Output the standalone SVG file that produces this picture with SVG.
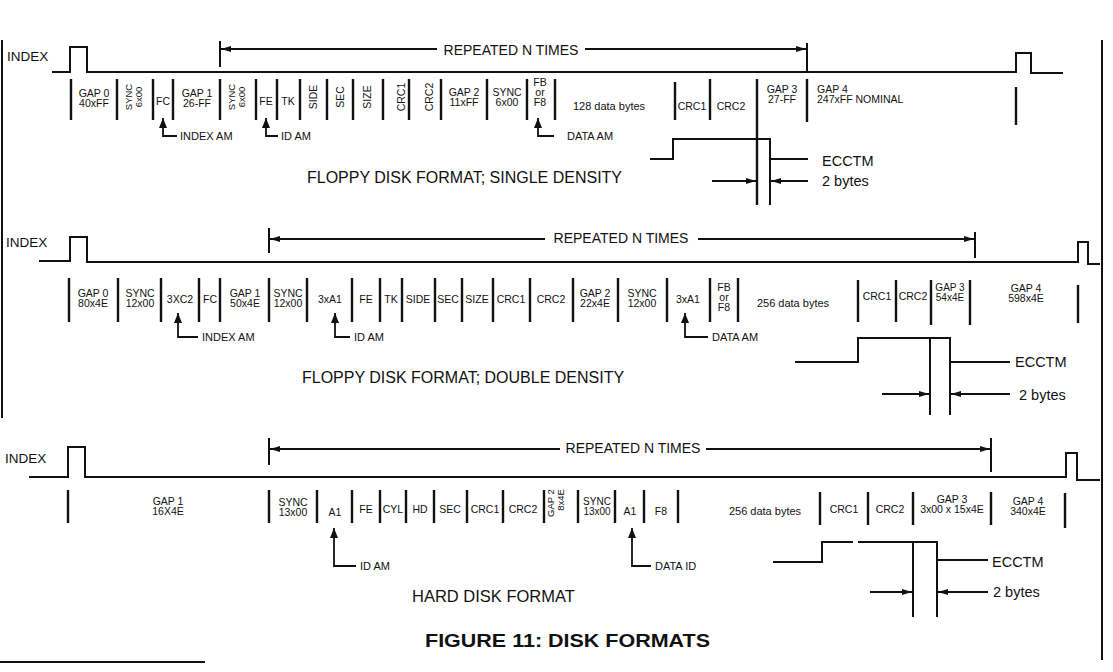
<svg xmlns="http://www.w3.org/2000/svg" width="1113" height="672" viewBox="0 0 1113 672">
<style>
.ln{stroke:#111;stroke-width:2;fill:none}
.bar{stroke:#111;stroke-width:2.4;fill:none}
.ar{stroke:#111;stroke-width:1.8;fill:none}
text{font-family:"Liberation Sans",Arial,Helvetica,sans-serif;fill:#111}
.f{font-size:10.5px;text-anchor:middle}
.fs{font-size:10.5px;text-anchor:start}
.r{font-size:9.5px;text-anchor:middle}
.r1{font-size:10.5px;text-anchor:middle}
.lb{font-size:13.5px}
.rp{font-size:14px;text-anchor:middle}
.am{font-size:11px}
.ec{font-size:14.5px}
.ti{font-size:16px}
.fig{font-size:18px;font-weight:bold}
</style>
<defs>
<marker id="ah" viewBox="0 0 10 6" refX="10" refY="3" markerWidth="10" markerHeight="6" markerUnits="userSpaceOnUse" orient="auto-start-reverse">
<path d="M0,0 L10,3 L0,6 z" fill="#111"/>
</marker>
<marker id="up" viewBox="0 0 8 10" refX="4" refY="0" markerWidth="8" markerHeight="10" markerUnits="userSpaceOnUse" orient="0">
<path d="M4,0 L8,10 L0,10 z" fill="#111"/>
</marker>
</defs>
<rect width="1113" height="672" fill="#fff"/>

<g id="frame">
<line class="ln" x1="2" y1="40" x2="2" y2="418"/>
<line class="ln" x1="1102" y1="40" x2="1102" y2="660"/>
<line class="ln" x1="0" y1="662" x2="205" y2="662"/>
</g>

<!-- SINGLE DENSITY -->
<g id="single-density">
<text class="lb" x="7" y="61">INDEX</text>
<path class="ln" d="M52,72 H70 V47 H87 V72 H1016 V53 H1031 V73 H1063"/>
<g id="sd-fields">
<path class="bar" d="M71,79V120M117,79V120M153,79V120M173,79V120M220,79V120M256,79V120M277,79V120M300,79V120M327,79V120M353,79V120M383,79V120M409,79V120M441,79V120M487,79V120M527,79V120M555,79V120M675,82V120M710,79V120M757,79V205M807,79V122M1016,87V125"/>
<text class="f" x="94" y="97">GAP 0<tspan x="94" dy="10">40xFF</tspan></text>
<text class="r" transform="translate(132,97) rotate(-90)">SYNC<tspan x="0" dy="10">6x00</tspan></text>
<text class="f" x="163" y="105">FC</text>
<text class="f" x="197" y="97">GAP 1<tspan x="197" dy="10">26-FF</tspan></text>
<text class="r" transform="translate(235,97) rotate(-90)">SYNC<tspan x="0" dy="10">6x00</tspan></text>
<text class="f" x="266" y="105">FE</text>
<text class="f" x="288" y="105">TK</text>
<text class="r1" transform="translate(317,97) rotate(-90)">SIDE</text>
<text class="r1" transform="translate(344,97) rotate(-90)">SEC</text>
<text class="r1" transform="translate(371,97) rotate(-90)">SIZE</text>
<text class="r1" transform="translate(405,97) rotate(-90)">CRC1</text>
<text class="r1" transform="translate(433,97) rotate(-90)">CRC2</text>
<text class="f" x="464" y="96">GAP 2<tspan x="464" dy="10">11xFF</tspan></text>
<text class="f" x="507" y="96">SYNC<tspan x="507" dy="10">6x00</tspan></text>
<text class="f" x="540" y="86">FB<tspan x="540" dy="10">or</tspan><tspan x="540" dy="10">F8</tspan></text>
<text class="f" x="609" y="110" style="font-size:11px">128 data bytes</text>
<text class="f" x="692" y="110">CRC1</text>
<text class="f" x="731" y="110">CRC2</text>
<text class="f" x="782" y="93">GAP 3<tspan x="782" dy="10">27-FF</tspan></text>
<text class="fs" x="817" y="93">GAP 4<tspan x="817" dy="10">247xFF NOMINAL</tspan></text>
</g>
<g id="sd-ecc">
<path class="ln" d="M650,159 H673 V139 H770 V205"/>
<line class="ln" x1="770" y1="159" x2="808" y2="159"/>
<text class="ec" x="822" y="166">ECCTM</text>
<text class="ec" x="822" y="186">2 bytes</text>
</g>
<text class="am" x="180" y="140">INDEX AM</text>
<text class="am" x="281" y="140">ID AM</text>
<text class="am" x="567" y="140">DATA AM</text>
<text class="rp" x="511" y="55">REPEATED N TIMES</text>
<text class="ti" x="307" y="183">FLOPPY DISK FORMAT; SINGLE DENSITY</text>
</g>

<!-- DOUBLE DENSITY -->
<g id="double-density">
<text class="lb" x="6" y="247">INDEX</text>
<path class="ln" d="M39,261 H70 V237 H87 V262 H1078 V242 H1088 V264 H1100"/>
<g id="dd-fields">
<path class="bar" d="M69,278V322M118,278V322M161,278V322M199,278V322M220,278V322M269,278V322M307,278V322M352,278V322M380,278V322M402,278V322M435,278V322M462,278V322M493,278V322M530,278V322M573,278V322M618,278V322M667,278V322M710,278V322M738,278V322M858,280V322M896,280V322M931,280V325M970,280V325M1078,285V323"/>
<text class="f" x="93" y="297">GAP 0<tspan x="93" dy="10">80x4E</tspan></text>
<text class="f" x="140" y="297">SYNC<tspan x="140" dy="10">12x00</tspan></text>
<text class="f" x="180" y="303">3XC2</text>
<text class="f" x="210" y="303">FC</text>
<text class="f" x="245" y="297">GAP 1<tspan x="245" dy="10">50x4E</tspan></text>
<text class="f" x="288" y="297">SYNC<tspan x="288" dy="10">12x00</tspan></text>
<text class="f" x="330" y="303">3xA1</text>
<text class="f" x="366" y="303">FE</text>
<text class="f" x="391" y="303">TK</text>
<text class="f" x="418" y="303">SIDE</text>
<text class="f" x="448" y="303">SEC</text>
<text class="f" x="477" y="303">SIZE</text>
<text class="f" x="511" y="303">CRC1</text>
<text class="f" x="551" y="303">CRC2</text>
<text class="f" x="595" y="297">GAP 2<tspan x="595" dy="10">22x4E</tspan></text>
<text class="f" x="642" y="297">SYNC<tspan x="642" dy="10">12x00</tspan></text>
<text class="f" x="688" y="303">3xA1</text>
<text class="f" x="724" y="291">FB<tspan x="724" dy="10">or</tspan><tspan x="724" dy="10">F8</tspan></text>
<text class="f" x="793" y="307" style="font-size:11px">256 data bytes</text>
<text class="f" x="877" y="300">CRC1</text>
<text class="f" x="913" y="300">CRC2</text>
<text class="f" x="950" y="291" style="font-size:10px">GAP 3<tspan x="950" dy="10">54x4E</tspan></text>
<text class="f" x="1026" y="292">GAP 4<tspan x="1026" dy="10">598x4E</tspan></text>
</g>
<g id="dd-ecc">
<path class="ln" d="M795,362 H858 V338 H950 V415"/>
<line class="ln" x1="930" y1="338" x2="930" y2="415"/>
<line class="ln" x1="950" y1="362" x2="1010" y2="362"/>
<text class="ec" x="1015" y="367">ECCTM</text>
<text class="ec" x="1019" y="400">2 bytes</text>
</g>
<text class="am" x="202" y="341">INDEX AM</text>
<text class="am" x="354" y="341">ID AM</text>
<text class="am" x="712" y="341">DATA AM</text>
<text class="rp" x="621" y="243">REPEATED N TIMES</text>
<text class="ti" x="302" y="383">FLOPPY DISK FORMAT; DOUBLE DENSITY</text>
</g>

<!-- HARD DISK -->
<g id="hard-disk">
<text class="lb" x="5" y="463">INDEX</text>
<path class="ln" d="M29,477 H68 V447 H85 V477 H1066 V453 H1077 V480 H1100"/>
<g id="hd-fields">
<path class="bar" d="M68,490V523M269,490V523M317,490V523M352,490V523M380,490V523M406,490V523M434,490V523M467,490V523M503,490V523M544,490V523M578,490V523M615,490V523M644,490V523M678,490V523M820,492V525M868,492V525M913,492V525M991,492V525M1065,493V528"/>
<text class="f" x="168" y="505">GAP 1<tspan x="168" dy="10">16X4E</tspan></text>
<text class="f" x="293" y="506">SYNC<tspan x="293" dy="10">13x00</tspan></text>
<text class="f" x="335" y="516">A1</text>
<text class="f" x="366" y="513">FE</text>
<text class="f" x="393" y="513">CYL</text>
<text class="f" x="420" y="513">HD</text>
<text class="f" x="450" y="513">SEC</text>
<text class="f" x="485" y="513">CRC1</text>
<text class="f" x="523" y="513">CRC2</text>
<text class="r" transform="translate(554,503) rotate(-90)">GAP 2<tspan x="3" dy="10">8x4E</tspan></text>
<text class="f" x="597" y="505" style="font-size:10px">SYNC<tspan x="597" dy="10">13x00</tspan></text>
<text class="f" x="630" y="515">A1</text>
<text class="f" x="661" y="515">F8</text>
<text class="f" x="765" y="515" style="font-size:11px">256 data bytes</text>
<text class="f" x="844" y="513">CRC1</text>
<text class="f" x="890" y="513">CRC2</text>
<text class="f" x="952" y="503">GAP 3<tspan x="952" dy="10">3x00 x 15x4E</tspan></text>
<text class="f" x="1028" y="505">GAP 4<tspan x="1028" dy="10">340x4E</tspan></text>
</g>
<g id="hd-ecc">
<path class="ln" d="M773,562 H822 V542 H853 M858,542 H937 V617"/>
<line class="ln" x1="913" y1="542" x2="913" y2="617"/>
<line class="ln" x1="937" y1="560" x2="988" y2="560"/>
<text class="ec" x="992" y="567">ECCTM</text>
<text class="ec" x="993" y="597">2 bytes</text>
</g>
<text class="am" x="360" y="570">ID AM</text>
<text class="am" x="655" y="570">DATA ID</text>
<text class="rp" x="633" y="453">REPEATED N TIMES</text>
<text class="ti" x="412" y="602" style="font-size:16.5px">HARD DISK FORMAT</text>
</g>

<g id="connectors">
<path class="ln" d="M220,41V67M807,43V71"/>
<line class="ar" x1="221" y1="49" x2="437" y2="49" marker-start="url(#ah)"/>
<line class="ar" x1="585" y1="49" x2="806" y2="49" marker-end="url(#ah)"/>
<path class="ln" d="M269,228V253M975,232V258"/>
<line class="ar" x1="270" y1="239" x2="545" y2="239" marker-start="url(#ah)"/>
<line class="ar" x1="698" y1="239" x2="974" y2="239" marker-end="url(#ah)"/>
<path class="ln" d="M269,438V465M991,438V472"/>
<line class="ar" x1="270" y1="449" x2="560" y2="449" marker-start="url(#ah)"/>
<line class="ar" x1="706" y1="449" x2="990" y2="449" marker-end="url(#ah)"/>
<path class="ar" d="M177,136 H163 V118" marker-end="url(#up)"/>
<path class="ar" d="M278,136 H266 V118" marker-end="url(#up)"/>
<path class="ar" d="M554,136 H538 V118" marker-end="url(#up)"/>
<path class="ar" d="M198,337 H178 V313" marker-end="url(#up)"/>
<path class="ar" d="M350,337 H335 V313" marker-end="url(#up)"/>
<path class="ar" d="M708,337 H685 V313" marker-end="url(#up)"/>
<path class="ar" d="M356,566 H334 V528" marker-end="url(#up)"/>
<path class="ar" d="M651,566 H632 V528" marker-end="url(#up)"/>
<line class="ar" x1="712" y1="181" x2="756" y2="181" marker-end="url(#ah)"/>
<line class="ar" x1="808" y1="181" x2="771" y2="181" marker-end="url(#ah)"/>
<line class="ar" x1="882" y1="394" x2="929" y2="394" marker-end="url(#ah)"/>
<line class="ar" x1="1010" y1="394" x2="951" y2="394" marker-end="url(#ah)"/>
<line class="ar" x1="870" y1="592" x2="912" y2="592" marker-end="url(#ah)"/>
<line class="ar" x1="988" y1="592" x2="938" y2="592" marker-end="url(#ah)"/>
</g>

<text class="fig" x="425" y="647" textLength="285" lengthAdjust="spacingAndGlyphs">FIGURE 11: DISK FORMATS</text>
</svg>
